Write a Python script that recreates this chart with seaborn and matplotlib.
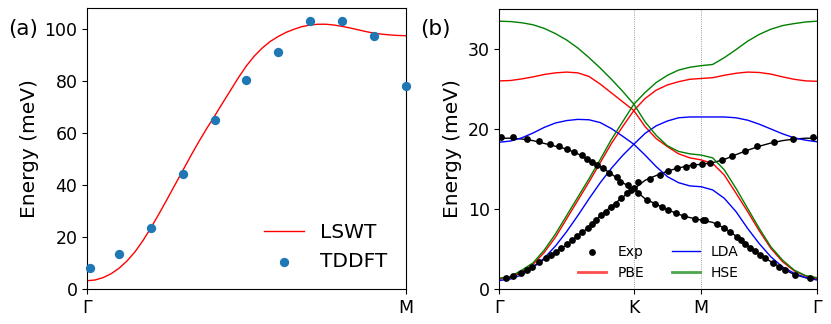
import numpy as np
import pandas as pd
import matplotlib
matplotlib.use("Agg")
import matplotlib.pyplot as plt
import seaborn as sns

# ---------------- panel (a) data ----------------
a_tddft_q = [0.01, 0.1, 0.2, 0.3, 0.4, 0.5, 0.6, 0.7, 0.8, 0.9, 1.0]
a_tddft_E = [8.3, 13.5, 23.6, 44.3, 65.1, 80.5, 91.2, 103.2, 103.2, 97.2, 78.2]
a_lswt_q = [0.0, 0.025, 0.05, 0.075, 0.1, 0.125, 0.15, 0.175, 0.2, 0.225, 0.25,
            0.275, 0.3, 0.325, 0.35, 0.375, 0.4, 0.425, 0.45, 0.475, 0.5,
            0.525, 0.55, 0.575, 0.6, 0.625, 0.65, 0.675, 0.7, 0.725, 0.75,
            0.775, 0.8, 0.825, 0.85, 0.875, 0.9, 0.925, 0.95, 0.975, 1.0]
a_lswt_E = [3.3, 3.6, 4.5, 6.0, 8.1, 10.9, 14.4, 18.7, 23.6, 28.9, 34.4,
            40.0, 45.6, 51.2, 56.6, 61.7, 66.5, 71.5, 76.4, 81.3, 85.8,
            89.6, 92.7, 95.2, 97.1, 98.7, 99.9, 100.9, 101.5, 101.8, 101.8,
            101.5, 101.0, 100.4, 99.7, 99.0, 98.4, 98.0, 97.7, 97.5, 97.4]
a_ticks = ["Γ", "M"]

# ---------------- panel (b) data ----------------
seg_len = [2 / 3, 1 / 3, 1 / np.sqrt(3)]          # Γ-K, K-M, M-Γ path lengths
b_tick_labels = ["Γ", "K", "M", "Γ"]
nodes = np.concatenate([[0], np.cumsum(seg_len)])
q = np.concatenate([np.linspace(nodes[0], nodes[1], 13),
                    np.linspace(nodes[1], nodes[2], 7)[1:],
                    np.linspace(nodes[2], nodes[3], 11)[1:]])

hse_up = [33.45, 33.4, 33.25, 33.0, 32.55, 31.9, 31.1, 30.1, 28.9, 27.6, 26.2, 24.7, 23.1,
          24.55, 25.8, 26.7, 27.35, 27.7, 27.9,
          28.05, 28.9, 29.9, 30.95, 31.8, 32.45, 32.9, 33.15, 33.35, 33.45]
hse_lo = [1.4, 1.6, 2.4, 3.3, 4.9, 6.9, 9.2, 11.5, 13.8, 16.2, 18.7, 20.9, 23.1,
          20.9, 19.2, 17.9, 17.2, 16.9, 16.75,
          16.4, 14.9, 12.6, 10.1, 7.6, 5.3, 3.65, 2.4, 1.7, 1.45]
pbe_up = [26.0, 26.05, 26.25, 26.5, 26.8, 27.0, 27.1, 27.0, 26.55, 25.6, 24.5, 23.4, 22.3,
          23.8, 24.85, 25.5, 25.9, 26.2, 26.3,
          26.4, 26.7, 26.95, 27.1, 27.05, 26.85, 26.5, 26.2, 26.0, 25.95]
pbe_lo = [1.3, 1.5, 2.2, 3.1, 4.6, 6.5, 8.8, 11.1, 13.4, 15.8, 18.2, 20.3, 22.3,
          20.3, 18.8, 17.8, 16.9, 16.4, 16.15,
          15.7, 14.25, 12.0, 9.7, 7.3, 5.1, 3.45, 2.3, 1.65, 1.35]
lda_up = [18.35, 18.5, 18.9, 19.5, 20.2, 20.75, 21.05, 21.2, 21.15, 20.8, 20.05, 19.1, 18.1,
          19.45, 20.4, 21.0, 21.4, 21.5, 21.5,
          21.5, 21.5, 21.4, 21.1, 20.6, 20.0, 19.4, 18.9, 18.6, 18.4]
lda_lo = [1.1, 1.3, 1.8, 2.7, 3.9, 5.4, 7.2, 9.2, 11.3, 13.3, 15.1, 16.7, 18.1,
          16.75, 15.3, 14.05, 13.3, 12.9, 12.8,
          12.4, 11.35, 9.7, 7.6, 5.7, 4.05, 2.8, 2.0, 1.45, 1.15]
fit_a = [18.85, 18.85, 18.75, 18.55, 18.2, 17.85, 17.5, 16.9, 16.1, 15.3, 14.4, 13.3, 12.5,
         13.6, 14.2, 14.75, 15.15, 15.45, 15.6,
         15.8, 16.2, 16.8, 17.35, 17.85, 18.25, 18.55, 18.75, 18.85, 18.85]
fit_b = [1.3, 1.55, 2.05, 2.85, 3.75, 4.65, 5.55, 6.7, 7.75, 9.2, 10.35, 11.5, 12.5,
         11.3, 10.6, 9.95, 9.35, 8.95, 8.65,
         8.35, 7.65, 6.65, 5.5, 4.4, 3.45, 2.6, 1.85, 1.45, 1.3]

exp_q = [0.032, 0.065, 0.106, 0.139, 0.164, 0.197, 0.230, 0.255, 0.280, 0.305, 0.337, 0.362,
         0.387, 0.412, 0.437, 0.461, 0.478, 0.503, 0.528, 0.553, 0.577, 0.602, 0.635, 0.652,
         0.008, 0.065, 0.136, 0.197, 0.251, 0.293, 0.334, 0.372, 0.412, 0.433, 0.458, 0.483,
         0.513, 0.541, 0.582, 0.599, 0.640, 0.667,
         0.689, 0.748, 0.797, 0.838, 0.880, 0.925, 0.962, 1.004,
         0.689, 0.731, 0.772, 0.806, 0.838, 0.877, 0.916, 0.971, 1.012,
         1.045, 1.105, 1.155, 1.219, 1.278, 1.363, 1.458, 1.557,
         1.020, 1.078, 1.115, 1.144, 1.178, 1.199, 1.219, 1.244, 1.268, 1.293, 1.318, 1.358,
         1.387, 1.417, 1.467, 1.541]
exp_E = [1.37, 1.66, 1.99, 2.41, 2.82, 3.37, 3.87, 4.28, 4.69, 5.11, 5.61, 6.15,
         6.68, 7.1, 7.6, 8.14, 8.64, 9.26, 9.68, 10.3, 10.7, 11.35, 11.97, 12.38,
         19.0, 19.0, 18.8, 18.5, 18.1, 17.9, 17.5, 17.1, 16.7, 16.25, 15.9, 15.5,
         15.1, 14.5, 14.0, 13.35, 13.0, 12.6,
         13.4, 13.8, 14.3, 14.8, 15.1, 15.3, 15.5, 15.6,
         12.0, 11.1, 10.7, 10.3, 9.9, 9.5, 9.1, 8.8, 8.65,
         15.7, 16.1, 16.6, 17.3, 17.9, 18.4, 18.8, 19.0,
         8.6, 8.2, 7.6, 7.1, 6.55, 6.1, 5.7, 5.2, 4.8, 4.3, 3.9, 3.25,
         2.8, 2.4, 1.8, 1.4]

# ---------------- figure ----------------
fig = plt.figure(figsize=(8.31, 3.24), dpi=100)
axa = fig.add_axes([0.105, 0.107, 0.383, 0.868])
axb = fig.add_axes([0.601, 0.107, 0.3827, 0.866])

LBL = 14.5
TCK = 12.5

# panel (a)
sns.lineplot(x=a_lswt_q, y=a_lswt_E, ax=axa, color="red", lw=1, label="LSWT",
             sort=False, estimator=None)
sns.scatterplot(x=a_tddft_q, y=a_tddft_E, ax=axa, color="#1f77b4", s=45,
                linewidth=0, label="TDDFT", zorder=3, clip_on=False)
axa.set_xlim(0, 1)
axa.set_ylim(0, 108)
axa.set_xticks([0, 1])
axa.set_xticklabels(a_ticks)
axa.set_yticks([0, 20, 40, 60, 80, 100])
axa.tick_params(labelsize=TCK)
axa.set_ylabel("Energy (meV)", fontsize=LBL)
axa.legend(loc="lower right", frameon=False, fontsize=LBL)
fig.text(0.010, 0.892, "(a)", fontsize=15.5)

# panel (b)
for xv in nodes[1:3]:
    axb.axvline(xv, color="gray", lw=0.6, ls=":", zorder=0)
sns.lineplot(x=q, y=fit_a, ax=axb, color="black", lw=1, sort=False, estimator=None)
sns.lineplot(x=q, y=fit_b, ax=axb, color="black", lw=1, sort=False, estimator=None)
sns.scatterplot(x=exp_q, y=exp_E, ax=axb, color="black", s=24, linewidth=0,
                label="Exp", zorder=4)
sns.lineplot(x=q, y=pbe_lo, ax=axb, color="red", lw=1, label="PBE", sort=False, estimator=None)
sns.lineplot(x=q, y=pbe_up, ax=axb, color="red", lw=1, sort=False, estimator=None)
sns.lineplot(x=q, y=lda_lo, ax=axb, color="blue", lw=1, label="LDA", sort=False, estimator=None)
sns.lineplot(x=q, y=lda_up, ax=axb, color="blue", lw=1, sort=False, estimator=None)
sns.lineplot(x=q, y=hse_lo, ax=axb, color="green", lw=1, label="HSE", sort=False, estimator=None)
sns.lineplot(x=q, y=hse_up, ax=axb, color="green", lw=1, sort=False, estimator=None)
axb.set_xlim(nodes[0], nodes[-1])
axb.set_ylim(0, 35)
axb.set_xticks(nodes)
axb.set_xticklabels(b_tick_labels)
axb.set_yticks([0, 10, 20, 30])
axb.tick_params(labelsize=TCK)
axb.set_ylabel("Energy (meV)", fontsize=LBL)
h, l = axb.get_legend_handles_labels()
order = [l.index(k) for k in ["Exp", "PBE", "LDA", "HSE"]]
leg = axb.legend([h[i] for i in order], [l[i] for i in order], ncol=2, loc="lower center",
                 bbox_to_anchor=(0.5, -0.01), frameon=False, fontsize=10,
                 columnspacing=2.0)
for handle, txt in zip(leg.legend_handles, leg.get_texts()):
    if txt.get_text() in ("PBE", "HSE"):
        handle.set_linewidth(2)
        handle.set_alpha(0.7)
fig.text(0.505, 0.892, "(b)", fontsize=15.5)

fig.savefig("out.png", dpi=100)
